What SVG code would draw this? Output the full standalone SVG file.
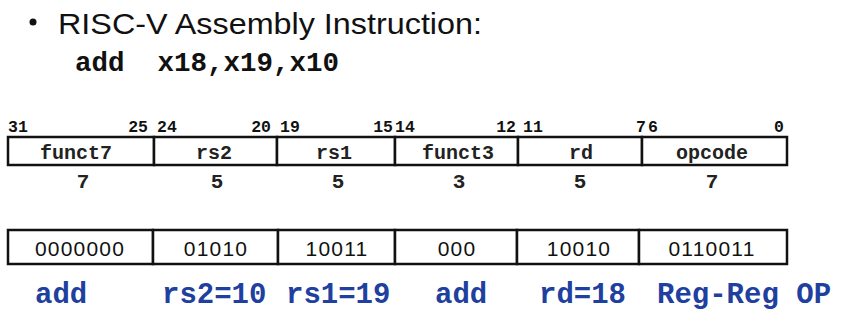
<svg xmlns="http://www.w3.org/2000/svg" width="852" height="331" viewBox="0 0 852 331">
  <style>
    .title { font-family: "Liberation Sans", Arial, sans-serif; font-size: 30px; fill: #111; }
    .asm { font-family: "Courier New", "Liberation Mono", monospace; font-weight: bold; font-size: 27.5px; fill: #111; }
    .bit { font-family: "Courier New", "Liberation Mono", monospace; font-weight: bold; font-size: 16.5px; fill: #111; }
    .fld { font-family: "Courier New", "Liberation Mono", monospace; font-weight: bold; font-size: 20px; fill: #222; text-anchor: middle; }
    .wid { font-family: "Courier New", "Liberation Mono", monospace; font-weight: bold; font-size: 21px; fill: #222; text-anchor: middle; }
    .bin { font-family: "Liberation Sans", Arial, sans-serif; font-size: 21px; letter-spacing: 1.2px; fill: #111; text-anchor: middle; }
    .lbl { font-family: "Courier New", "Liberation Mono", monospace; font-weight: bold; font-size: 29px; fill: #2040a0; }
    .cell { fill: #fff; stroke: #111; stroke-width: 2.5; }
  </style>

  <!-- heading -->
  <g id="title">
    <circle cx="33" cy="22" r="3.5" fill="#111"/>
    <text class="title" x="58" y="34" textLength="424" lengthAdjust="spacingAndGlyphs">RISC-V Assembly Instruction:</text>
  </g>
  <g id="asm">
    <text class="asm" x="75" y="71" xml:space="preserve">add  x18,x19,x10</text>
  </g>

  <!-- bit positions -->
  <g id="bit-numbers">
    <text class="bit" x="8" y="132">31</text>
    <text class="bit" x="148" y="132" text-anchor="end">25</text>
    <text class="bit" x="157" y="132">24</text>
    <text class="bit" x="271" y="132" text-anchor="end">20</text>
    <text class="bit" x="280" y="132">19</text>
    <text class="bit" x="393" y="132" text-anchor="end">15</text>
    <text class="bit" x="395" y="132">14</text>
    <text class="bit" x="516" y="132" text-anchor="end">12</text>
    <text class="bit" x="523" y="132">11</text>
    <text class="bit" x="646" y="132" text-anchor="end">7</text>
    <text class="bit" x="648" y="132">6</text>
    <text class="bit" x="784" y="132" text-anchor="end">0</text>
  </g>

  <!-- R-type format fields -->
  <g id="fmt-funct7">
    <rect class="cell" x="8" y="137" width="146" height="28"/>
    <text class="fld" x="76" y="159">funct7</text>
    <text class="wid" x="83" y="188">7</text>
  </g>
  <g id="fmt-rs2">
    <rect class="cell" x="154" y="137" width="123" height="28"/>
    <text class="fld" x="214" y="159">rs2</text>
    <text class="wid" x="217" y="188">5</text>
  </g>
  <g id="fmt-rs1">
    <rect class="cell" x="277" y="137" width="118" height="28"/>
    <text class="fld" x="334" y="159">rs1</text>
    <text class="wid" x="338" y="188">5</text>
  </g>
  <g id="fmt-funct3">
    <rect class="cell" x="395" y="137" width="123" height="28"/>
    <text class="fld" x="458" y="159">funct3</text>
    <text class="wid" x="459" y="188">3</text>
  </g>
  <g id="fmt-rd">
    <rect class="cell" x="518" y="137" width="124" height="28"/>
    <text class="fld" x="581" y="159">rd</text>
    <text class="wid" x="580" y="188">5</text>
  </g>
  <g id="fmt-opcode">
    <rect class="cell" x="642" y="137" width="145" height="28"/>
    <text class="fld" x="712" y="159">opcode</text>
    <text class="wid" x="712" y="188">7</text>
  </g>

  <!-- encoded bits -->
  <g id="enc-funct7">
    <rect class="cell" x="8" y="230" width="145" height="34"/>
    <text class="bin" x="80" y="256">0000000</text>
  </g>
  <g id="enc-rs2">
    <rect class="cell" x="153" y="230" width="125" height="34"/>
    <text class="bin" x="216" y="256">01010</text>
  </g>
  <g id="enc-rs1">
    <rect class="cell" x="278" y="230" width="117" height="34"/>
    <text class="bin" x="337" y="256">10011</text>
  </g>
  <g id="enc-funct3">
    <rect class="cell" x="395" y="230" width="122" height="34"/>
    <text class="bin" x="457" y="256">000</text>
  </g>
  <g id="enc-rd">
    <rect class="cell" x="517" y="230" width="122" height="34"/>
    <text class="bin" x="579" y="256">10010</text>
  </g>
  <g id="enc-opcode">
    <rect class="cell" x="639" y="230" width="148" height="34"/>
    <text class="bin" x="712" y="256">0110011</text>
  </g>

  <!-- field meanings -->
  <g id="meanings">
    <text class="lbl" x="35" y="303">add</text>
    <text class="lbl" x="162" y="303">rs2=10</text>
    <text class="lbl" x="286" y="303">rs1=19</text>
    <text class="lbl" x="435" y="303">add</text>
    <text class="lbl" x="539" y="303">rd=18</text>
    <text class="lbl" x="657" y="303" xml:space="preserve">Reg-Reg OP</text>
  </g>
</svg>
